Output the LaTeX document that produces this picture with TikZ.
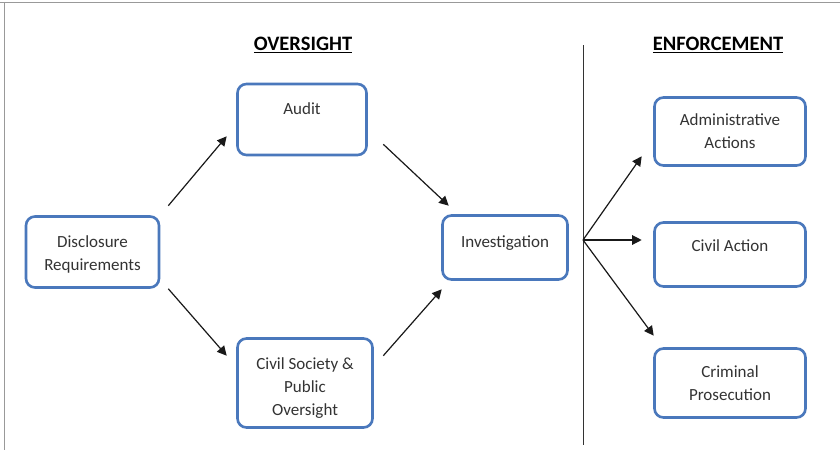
\documentclass[tikz,border=0pt]{standalone}
\usepackage{fontspec}
\setmainfont{Carlito}
\usetikzlibrary{arrows.meta,calc}
\definecolor{boxblue}{HTML}{4A78BC}
\definecolor{txt}{HTML}{333333}
\begin{document}
\begin{tikzpicture}[x=1pt,y=-1pt,
  box/.style={draw=boxblue,line width=2.6pt,rounded corners=9pt,fill=white,text=txt,
    font=\fontsize{17}{23}\selectfont,align=center,inner sep=0pt},
  arr/.style={-{Triangle[length=9.5pt,width=9.5pt]},line width=1.2pt,black!90},
  head/.style={font=\fontsize{20.5}{24}\selectfont\bfseries,text=black}]
\useasboundingbox (0,0) rectangle (840,450);
\fill[white] (0,0) rectangle (840,450);
\draw[gray!80,line width=1pt] (0,2) -- (840,2);
\draw[gray!80,line width=1pt] (4,2) -- (4,450);
% headers
\node[head] (hov) at (303,45) {\underline{OVERSIGHT}};
\node[head] (hen) at (718,45) {\underline{ENFORCEMENT}};
% divider
\coordinate (dtop) at (583,45);
\coordinate (dbot) at (583,445);
\draw[black!80,line width=0.9pt] (dtop) -- (dbot);
% boxes
\node[box,minimum width=133pt,minimum height=71pt] (dis) at (92.5,252) {\rule{0pt}{17pt}Disclosure\\Requirements};
\node[box,minimum width=129pt,minimum height=71pt] (aud) at (302,119.5) {\raisebox{21pt}{Audit}};
\node[box,minimum width=135pt,minimum height=89pt] (civ) at (305,383) {\rule{0pt}{22pt}Civil Society \&\\Public\\Oversight};
\node[box,minimum width=125pt,minimum height=64pt] (inv) at (505,247.5) {\raisebox{11pt}{Investigation}};
\node[box,minimum width=151pt,minimum height=68pt] (adm) at (730,131.5) {Administrative\\Actions};
\node[box,minimum width=151pt,minimum height=64pt] (cia) at (730,254.5) {\raisebox{17pt}{Civil Action}};
\node[box,minimum width=151pt,minimum height=69pt] (cri) at (730,383) {Criminal\\Prosecution};
% arrows
\draw[arr] ($(dis.north east)+(8,-9.5)$) -- ($(aud.south west)+(-9.5,-20)$);
\draw[arr] ($(dis.south east)+(8,0)$) -- ($(civ.north west)+(-9.5,18.5)$);
\draw[arr] ($(aud.south east)+(15.5,-12)$) -- ($(inv.north west)+(7.5,-8.5)$);
\draw[arr] ($(civ.north east)+(9.5,18.5)$) -- ($(inv.south west)+(0.5,8.5)$);
\coordinate (fan) at (583,240);
\draw[arr] (fan) -- ($(adm.south west)+(-11.5,-10.5)$);
\draw[arr] (fan) -- ($(cia.west)+(-11.5,-14.5)$);
\draw[arr] (fan) -- ($(cri.north west)+(0.5,-11.5)$);
\end{tikzpicture}
\end{document}
